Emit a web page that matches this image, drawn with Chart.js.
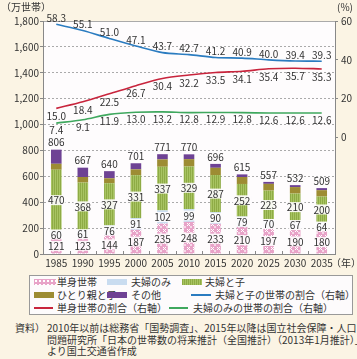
<!DOCTYPE html>
<html><head><meta charset="utf-8">
<script src="https://cdn.jsdelivr.net/npm/chart.js@4"></script>
<style>
html,body{margin:0;padding:0;background:#fbf4e4;width:357px;height:359px;overflow:hidden;font-family:"Noto Sans CJK JP",sans-serif;color:#333}
#wrap{position:absolute;left:0;top:0;width:357px;height:272px}
.t{position:absolute;font-size:10px;line-height:12px;white-space:nowrap}
#legend{position:absolute;left:29px;top:275px;width:324px;height:40px;border:1px solid #999;background:#fdfbfc;box-sizing:border-box}
.sw{position:absolute;height:6px}
.ln{position:absolute;height:2px}
.n{position:absolute;font-size:10px;line-height:11.5px;white-space:nowrap}
</style></head>
<body>
<div id="wrap"><canvas id="c" width="357" height="272"></canvas></div>
<div class="t" style="left:1px;top:1px;">（万世帯）</div>
<div class="t" style="left:337px;top:1px;">(%)</div>
<div class="t" style="left:331px;top:257px;">（年）</div>

<div id="legend"></div>
<div id="lg"></div>

<div class="n" style="left:15px;top:322px;">資料）</div>
<div class="n" style="left:47px;top:322px;">2010年以前は総務省「国勢調査」、2015年以降は国立社会保障・人口<br>問題研究所「日本の世帯数の将来推計（全国推計）（2013年1月推計）」<br>より国土交通省作成</div>

<script>
// ---- data ----
const years = ['1985','1990','1995','2000','2005','2010','2015','2020','2025','2030','2035'];
const single = [121,123,144,187,235,248,233,210,197,190,180];
const couple = [60,61,76,91,102,99,90,79,70,67,64];
const coupleChild = [470,368,327,331,337,329,287,252,223,210,200];
const singleParent = [46,43,38,45,57,57,56,54,52,50,49];
const others = [109,72,55,47,40,37,30,20,15,15,16];
const totals = [806,667,640,701,771,770,696,615,557,532,509];
const shareCoupleChild = [58.3,55.1,51.0,47.1,43.7,42.7,41.2,40.9,40.0,39.4,39.3];
const shareSingle = [15.0,18.4,22.5,26.7,30.4,32.2,33.5,34.1,35.4,35.7,35.3];
const shareCouple = [7.4,9.1,11.9,13.0,13.2,12.8,12.9,12.8,12.6,12.6,12.6];
const leftTicks = [0,200,400,600,800,1000,1200,1400,1600,1800];
const rightTicks = [0,20,40,60];

const PINK='#e8a3c8', LBLUE='#c9dcf0', GREEN='#a8c462', OLIVE='#9d8c33', PURPLE='#6e4294';
const BLUE='#2b7cc0', RED='#c8243c', LGREEN='#3fa85e';
const FONT='"Noto Sans CJK JP", sans-serif';

function makePattern(w,h,draw){
  const c=document.createElement('canvas');c.width=w;c.height=h;
  const x=c.getContext('2d');draw(x);
  return document.getElementById('c').getContext('2d').createPattern(c,'repeat');
}
const pinkPat=makePattern(6,6,x=>{x.fillStyle=PINK;x.fillRect(0,0,6,6);x.fillStyle='#fff';
  x.fillRect(1,1,1,1);x.fillRect(2,2,1,1);x.fillRect(3,1,1,1);x.fillRect(1,3,1,1);x.fillRect(3,3,1,1);
  x.fillStyle='#f6d9e8';x.fillRect(4,4,2,2);});
const greenPat=makePattern(2,4,x=>{x.fillStyle=GREEN;x.fillRect(0,0,2,4);x.fillStyle='#8eab45';x.fillRect(0,0,1,4);});

// ---- legend (HTML) ----
const lg=document.getElementById('lg');
function sw(x,y,style){const d=document.createElement('div');d.className='sw';d.style.cssText=`left:${x}px;top:${y-3}px;width:20px;`+style;lg.appendChild(d);}
function ln(x,y,w,color){const d=document.createElement('div');d.className='ln';d.style.cssText=`left:${x}px;top:${y-1}px;width:${w}px;background:${color}`;lg.appendChild(d);}
function tx(x,y,s){const d=document.createElement('div');d.className='t';d.style.cssText=`left:${x}px;top:${y-6}px;`;d.textContent=s;lg.appendChild(d);}
const r1=282,r2=295,r3=308;
sw(34,r1,`background:${PINK} radial-gradient(circle,#fff 0.8px,transparent 1.2px) 0 0/4px 4px;width:22px`);tx(57,r1,'単身世帯');
sw(107,r1,`background:${LBLUE}`);tx(131,r1,'夫婦のみ');
sw(182,r1,`background:repeating-linear-gradient(90deg,#8eab45 0 1px,${GREEN} 1px 2px)`);tx(205,r1,'夫婦と子');
sw(34,r2,`background:${OLIVE}`);tx(57,r2,'ひとり親と子');
sw(107,r2,`background:${PURPLE}`);tx(131,r2,'その他');
ln(191,r2,20,BLUE);tx(215,r2,'夫婦と子の世帯の割合（右軸）');
ln(34,r3,19,RED);tx(57,r3,'単身世帯の割合（右軸）');
ln(169,r3,19,LGREEN);tx(193,r3,'夫婦のみの世帯の割合（右軸）');

// ---- plugins ----
const bgPlugin={id:'bg',beforeDraw(chart){const {ctx,chartArea:a}=chart;ctx.save();ctx.fillStyle='#fefcfd';ctx.fillRect(a.left,a.top,a.right-a.left,a.bottom-a.top);ctx.restore();}};
const xTickPlugin={id:'xt',afterDraw(chart){const {ctx,chartArea:a}=chart;const xs=chart.scales.x;ctx.save();ctx.strokeStyle='#888';ctx.lineWidth=1;
  for(let i=1;i<years.length;i++){const x=Math.round((xs.getPixelForValue(i-1)+xs.getPixelForValue(i))/2)+0.5;ctx.beginPath();ctx.moveTo(x,a.bottom);ctx.lineTo(x,a.bottom-3);ctx.stroke();}
  ctx.restore();}};
const labelPlugin={id:'lbl',afterDatasetsDraw(chart){
  const ctx=chart.ctx;ctx.save();ctx.font='10px '+FONT;ctx.textAlign='center';ctx.textBaseline='middle';
  [0,1,2].forEach(di=>{
    const meta=chart.getDatasetMeta(di);
    meta.data.forEach((el,i)=>{
      const txt=String(chart.data.datasets[di].data[i]);
      const y=(el.y+el.base)/2;const w=ctx.measureText(txt).width;
      ctx.fillStyle='rgba(254,252,253,0.92)';ctx.fillRect(el.x-w/2-1,y-5,w+2,10);
      ctx.fillStyle='#333';ctx.fillText(txt,el.x,y+0.5);
    });
  });
  chart.getDatasetMeta(4).data.forEach((el,i)=>{ctx.fillStyle='#333';ctx.fillText(String(totals[i]),el.x,el.y-7);});
  const offs={5:-6,6:8,7:7};
  [5,6,7].forEach(di=>{
    chart.getDatasetMeta(di).data.forEach((el,i)=>{
      const v=chart.data.datasets[di].data[i];
      ctx.fillStyle='#333';ctx.fillText(v.toFixed(1),el.x,el.y+offs[di]);
    });
  });
  ctx.restore();
}};

// ---- chart ----
const barCommon={type:'bar',yAxisID:'y',barPercentage:0.4,categoryPercentage:1.0,borderWidth:0,order:2};
const lineCommon={type:'line',yAxisID:'y2',borderWidth:1.6,pointRadius:0,tension:0.3,fill:false,order:1};
new Chart(document.getElementById('c'),{
  data:{labels:years,datasets:[
    Object.assign({label:'単身世帯',data:single,backgroundColor:pinkPat},barCommon),
    Object.assign({label:'夫婦のみ',data:couple,backgroundColor:LBLUE},barCommon),
    Object.assign({label:'夫婦と子',data:coupleChild,backgroundColor:greenPat},barCommon),
    Object.assign({label:'ひとり親と子',data:singleParent,backgroundColor:OLIVE},barCommon),
    Object.assign({label:'その他',data:others,backgroundColor:PURPLE},barCommon),
    Object.assign({label:'夫婦と子の世帯の割合（右軸）',data:shareCoupleChild,borderColor:BLUE},lineCommon),
    Object.assign({label:'単身世帯の割合（右軸）',data:shareSingle,borderColor:RED},lineCommon),
    Object.assign({label:'夫婦のみの世帯の割合（右軸）',data:shareCouple,borderColor:LGREEN},lineCommon)
  ]},
  options:{
    responsive:false,animation:false,
    layout:{padding:{top:21,left:0,right:0,bottom:0}},
    plugins:{legend:{display:false},tooltip:{enabled:false}},
    scales:{
      x:{stacked:true,offset:true,
        grid:{display:false,drawTicks:false},
        border:{display:true,color:'#888',width:1},
        ticks:{color:'#333',font:{family:FONT,size:10},padding:3,maxRotation:0,autoSkip:false},
        afterFit:s=>{s.height=18;}},
      y:{stacked:true,min:0,max:1800,position:'left',
        afterBuildTicks:s=>{s.ticks=leftTicks.map(v=>({value:v}));},
        grid:{color:'#aaa',lineWidth:1,tickLength:3,tickColor:'#888',tickBorderDash:[]},
        border:{display:true,color:'#888',width:1,dash:c=>(c.tick&&c.tick.value===1800)?[]:[2,2]},
        ticks:{color:'#333',font:{family:FONT,size:10},padding:1,callback:v=>v.toLocaleString('en-US')},
        afterFit:s=>{s.width=43;}},
      y2:{min:-60,max:60,position:'right',
        afterBuildTicks:s=>{s.ticks=[-60,-40,-20].concat(rightTicks).map(v=>({value:v}));},
        grid:{drawOnChartArea:false,tickLength:3,tickColor:c=>(c.tick&&c.tick.value>=0)?'#888':'rgba(0,0,0,0)'},
        border:{display:true,color:'#888',width:1},
        ticks:{color:'#333',font:{family:FONT,size:10},padding:3,callback:v=>v>=0?String(v):''},
        afterFit:s=>{s.width=22;}}
    }
  },
  plugins:[bgPlugin,labelPlugin,xTickPlugin]
});
</script>
</body></html>
